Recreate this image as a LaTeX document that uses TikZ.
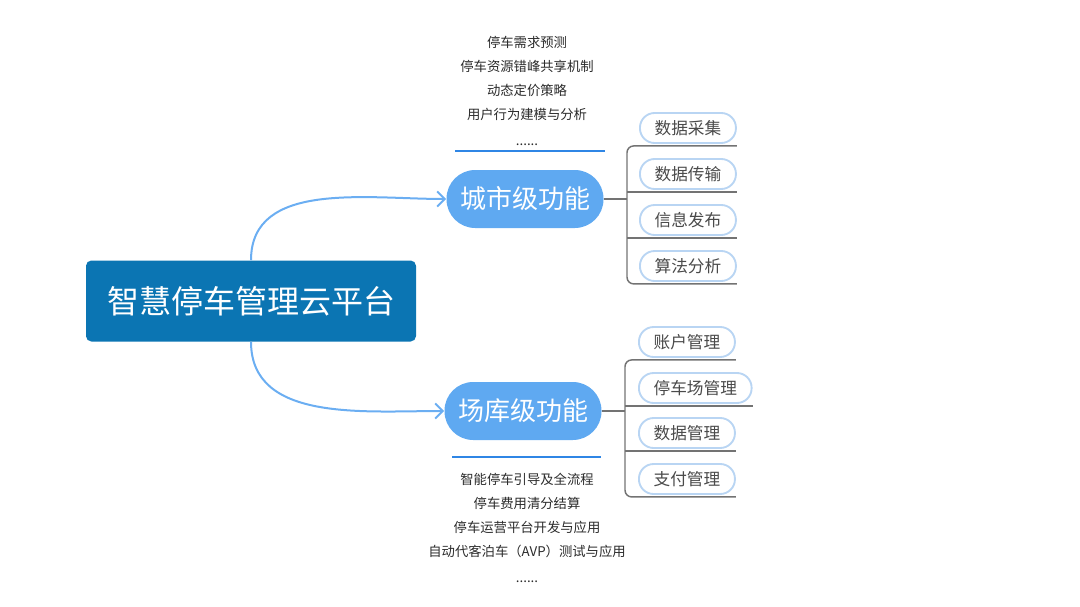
\documentclass[tikz,border=0pt]{standalone}
\usepackage{fontspec}
\setmainfont{Noto Sans CJK SC}
\usetikzlibrary{arrows.meta,positioning}
\definecolor{Root}{HTML}{0B75B3}
\definecolor{Level}{HTML}{5FA9F1}
\definecolor{Arrow}{HTML}{6BAEF2}
\definecolor{Rule}{HTML}{2F86E5}
\definecolor{LeafLine}{HTML}{B9D5F3}
\definecolor{Branch}{HTML}{737373}
\definecolor{Ink}{HTML}{2B2B2B}
\definecolor{LeafInk}{HTML}{4A4A4A}
\tikzset{
  rootbox/.style={fill=Root,rounded corners=4pt,minimum width=247.5pt,minimum height=60.75pt,font=\fontsize{24}{28}\selectfont,text=white},
  level/.style={fill=Level,rounded corners=21.5pt,minimum width=117.75pt,minimum height=43.5pt,font=\fontsize{19.5}{23}\selectfont,text=white},
  leaf/.style={draw=LeafLine,line width=1.4pt,fill=white,rounded corners=11pt,minimum height=22.5pt,inner xsep=11pt,font=\fontsize{12.5}{15}\selectfont,text=LeafInk,anchor=west},
  note/.style={align=center,font=\fontsize{10}{18}\selectfont,text=Ink},
  arr/.style={-{Straight Barb[length=2mm]},draw=Arrow,line width=1.5pt},
  branch/.style={draw=Branch,line width=1.1pt},
  rule/.style={draw=Rule,line width=1.6pt}
}

\begin{document}
\begin{tikzpicture}[x=0.75pt,y=-0.75pt]
  \useasboundingbox (0,0) rectangle (1080,606);
  \node[rootbox] (root) at (251,301) {智慧停车管理云平台};
  \node[level] (city) at (525,199) {城市级功能};
  \node[level] (garage) at (523,411) {场库级功能};
  \draw[arr] (root.north) to[out=90,in=180] (city.west);
  \draw[arr] (root.south) to[out=-90,in=180] (garage.west);

  % city level
  \node[note] (citynote) at (527,91) {停车需求预测\\停车资源错峰共享机制\\动态定价策略\\用户行为建模与分析\\[2pt]......};
  \draw[rule] (455,151) -- (605,151);
  \node[leaf] (c1) at (639,128) {数据采集};
  \node[leaf] (c2) at (639,174) {数据传输};
  \node[leaf] (c3) at (639,220) {信息发布};
  \node[leaf] (c4) at (639,266) {算法分析};
  \coordinate (cspine) at (627,199);
  \draw[branch] (city.east) -- (cspine);
  \draw[branch,rounded corners=5pt] ([yshift=-1.5pt]c1.south east) -- ([yshift=-1.5pt]c1.south -| cspine) -- ([yshift=-1.5pt]c4.south -| cspine) -- ([yshift=-1.5pt]c4.south east);
  \foreach \n in {c2,c3}
    \draw[branch] ([yshift=-1.5pt]\n.south -| cspine) -- ([yshift=-1.5pt]\n.south east);

  % garage level
  \node[note] (garagenote) at (527,528) {智能停车引导及全流程\\停车费用清分结算\\停车运营平台开发与应用\\自动代客泊车（AVP）测试与应用\\[2pt]......};
  \draw[rule] (452,457) -- (601,457);
  \node[leaf] (g1) at (638,342) {账户管理};
  \node[leaf] (g2) at (638,388) {停车场管理};
  \node[leaf] (g3) at (638,433) {数据管理};
  \node[leaf] (g4) at (638,479) {支付管理};
  \coordinate (gspine) at (625,409);
  \draw[branch] (garage.east) -- (garage.east -| gspine);
  \draw[branch,rounded corners=5pt] ([yshift=-1.5pt]g1.south east) -- ([yshift=-1.5pt]g1.south -| gspine) -- ([yshift=-1.5pt]g4.south -| gspine) -- ([yshift=-1.5pt]g4.south east);
  \foreach \n in {g2,g3}
    \draw[branch] ([yshift=-1.5pt]\n.south -| gspine) -- ([yshift=-1.5pt]\n.south east);
\end{tikzpicture}
\end{document}
